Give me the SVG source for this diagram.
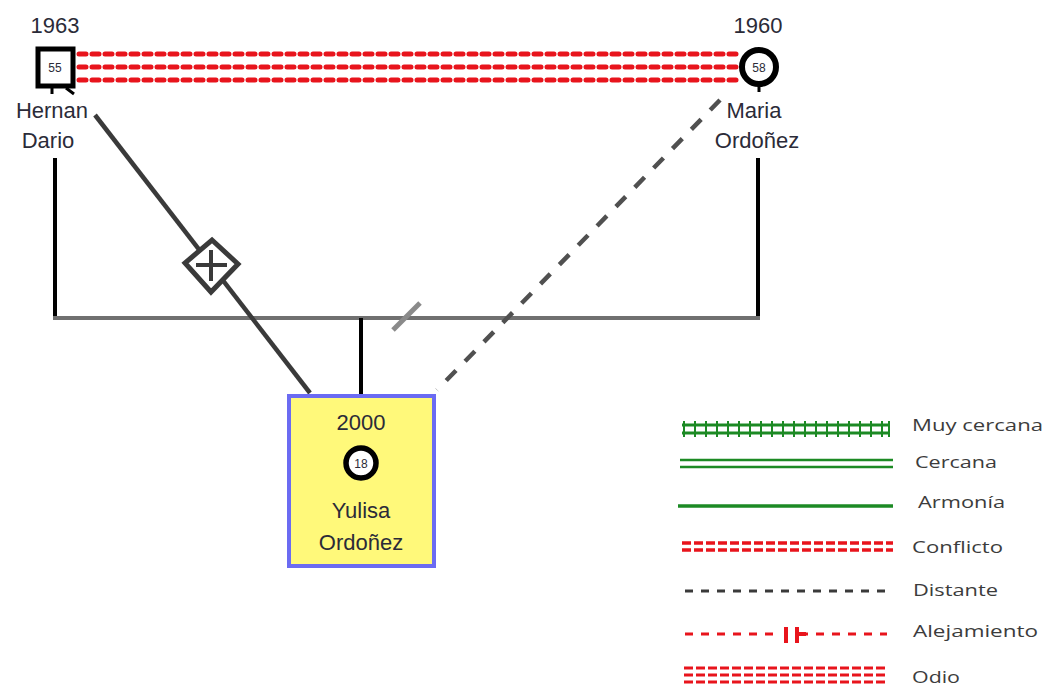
<svg xmlns="http://www.w3.org/2000/svg" width="1049" height="688" viewBox="0 0 1049 688">
<style>
.lbl{font-family:"Liberation Sans",Arial,sans-serif;font-size:22px;fill:#2b2b38;text-anchor:middle}
.age{font-family:"Liberation Sans",Arial,sans-serif;font-size:12px;fill:#2b2b38;text-anchor:middle}
.leg{font-family:"Open Sans","Liberation Sans",sans-serif;font-size:17px;fill:#3c3c3c}
.red{stroke:#e8141c;fill:none}
.grn{stroke:#1c8a24;fill:none}
</style>
<rect width="1049" height="688" fill="#ffffff"/>
<g id="connectors" fill="none">
  <g class="red" stroke-width="5" stroke-dasharray="7 6" stroke-linecap="round">
    <line x1="79" y1="54" x2="738" y2="54"/>
    <line x1="79" y1="67" x2="738" y2="67"/>
    <line x1="79" y1="80" x2="738" y2="80"/>
  </g>
  <line x1="55" y1="158" x2="55" y2="318" stroke="#000" stroke-width="4"/>
  <line x1="758" y1="158" x2="758" y2="318" stroke="#000" stroke-width="4"/>
  <line x1="53" y1="318" x2="760" y2="318" stroke="#707070" stroke-width="4"/>
  <line x1="361" y1="318" x2="361" y2="395" stroke="#000" stroke-width="4"/>
  <line x1="95" y1="115" x2="310" y2="393" stroke="#3a3a3a" stroke-width="4.5"/>
  <g id="diamond">
    <polygon points="212,240 238,264 211,292 185,263" fill="#fff" stroke="#3a3a3a" stroke-width="5"/>
    <line x1="196" y1="265" x2="227" y2="265" stroke="#3a3a3a" stroke-width="4"/>
    <line x1="211" y1="250" x2="211" y2="281" stroke="#3a3a3a" stroke-width="4"/>
  </g>
  <line x1="720" y1="100" x2="437" y2="390" stroke="#505050" stroke-width="4.5" stroke-dasharray="14 13"/>
  <line x1="393" y1="330" x2="420" y2="303" stroke="#8a8a8a" stroke-width="5"/>
</g>
<g id="hernan">
  <text class="lbl" x="55" y="33">1963</text>
  <rect x="38" y="49" width="35" height="37" fill="#fff" stroke="#000" stroke-width="5"/>
  <path d="M52 88 V94 M66 88 L74 94" stroke="#000" stroke-width="3" fill="none"/>
  <text class="age" x="55" y="72">55</text>
  <text class="lbl" x="52" y="118">Hernan</text>
  <text class="lbl" x="48" y="148">Dario</text>
</g>
<g id="maria">
  <text class="lbl" x="758" y="33">1960</text>
  <circle cx="759" cy="67" r="17" fill="#fff" stroke="#000" stroke-width="6"/>
  <line x1="759" y1="84" x2="759" y2="92" stroke="#000" stroke-width="3"/>
  <text class="age" x="759" y="72">58</text>
  <text class="lbl" x="754" y="118">Maria</text>
  <text class="lbl" x="757" y="148">Ordoñez</text>
</g>
<g id="yulisa">
  <rect x="289" y="396" width="145" height="170" fill="#fff97a" stroke="#6b6bf2" stroke-width="4"/>
  <text class="lbl" x="361" y="430">2000</text>
  <circle cx="361" cy="463" r="15" fill="#fff" stroke="#000" stroke-width="5.5"/>
  <text class="age" x="361" y="468">18</text>
  <text class="lbl" x="361" y="518">Yulisa</text>
  <text class="lbl" x="361" y="550">Ordoñez</text>
</g>
<g id="legend">
  <g class="grn" stroke-width="3">
    <line x1="682" y1="425" x2="890" y2="425"/>
    <line x1="682" y1="433" x2="890" y2="433"/>
  </g>
  <path d="M684 421V437 M695 421V437 M706 421V437 M717 421V437 M728 421V437 M739 421V437 M750 421V437 M761 421V437 M772 421V437 M783 421V437 M794 421V437 M805 421V437 M816 421V437 M827 421V437 M838 421V437 M849 421V437 M860 421V437 M871 421V437 M882 421V437 M889 421V437" stroke="#1c8a24" stroke-width="2" fill="none"/>
  <text class="leg" x="912" y="431" textLength="131" lengthAdjust="spacingAndGlyphs">Muy cercana</text>
  <g class="grn" stroke-width="2.5">
    <line x1="680" y1="460" x2="893" y2="460"/>
    <line x1="680" y1="467" x2="893" y2="467"/>
  </g>
  <text class="leg" x="915" y="468" textLength="82" lengthAdjust="spacingAndGlyphs">Cercana</text>
  <line class="grn" x1="678" y1="506" x2="893" y2="506" stroke-width="3.5"/>
  <text class="leg" x="918" y="508" textLength="87" lengthAdjust="spacingAndGlyphs">Armonía</text>
  <g class="red" stroke-width="3.5" stroke-dasharray="9 3">
    <line x1="682" y1="543" x2="893" y2="543"/>
    <line x1="682" y1="550" x2="893" y2="550"/>
  </g>
  <text class="leg" x="912" y="553" textLength="91" lengthAdjust="spacingAndGlyphs">Conflicto</text>
  <line x1="685" y1="591" x2="887" y2="591" stroke="#3a3a3a" stroke-width="3" stroke-dasharray="8 8"/>
  <text class="leg" x="913" y="596" textLength="85" lengthAdjust="spacingAndGlyphs">Distante</text>
  <line class="red" x1="685" y1="634" x2="780" y2="634" stroke-width="3" stroke-dasharray="8 8"/>
  <line class="red" x1="800" y1="634" x2="887" y2="634" stroke-width="3" stroke-dasharray="8 8"/>
  <path d="M786 627V643 M797 627V643 M797 634H806" stroke="#e8141c" stroke-width="4" fill="none"/>
  <text class="leg" x="913" y="637" textLength="125" lengthAdjust="spacingAndGlyphs">Alejamiento</text>
  <g class="red" stroke-width="3" stroke-dasharray="9 3">
    <line x1="684" y1="668" x2="886" y2="668"/>
    <line x1="684" y1="675" x2="886" y2="675"/>
    <line x1="684" y1="682" x2="886" y2="682"/>
  </g>
  <text class="leg" x="912" y="683" textLength="48" lengthAdjust="spacingAndGlyphs">Odio</text>
</g>
</svg>
